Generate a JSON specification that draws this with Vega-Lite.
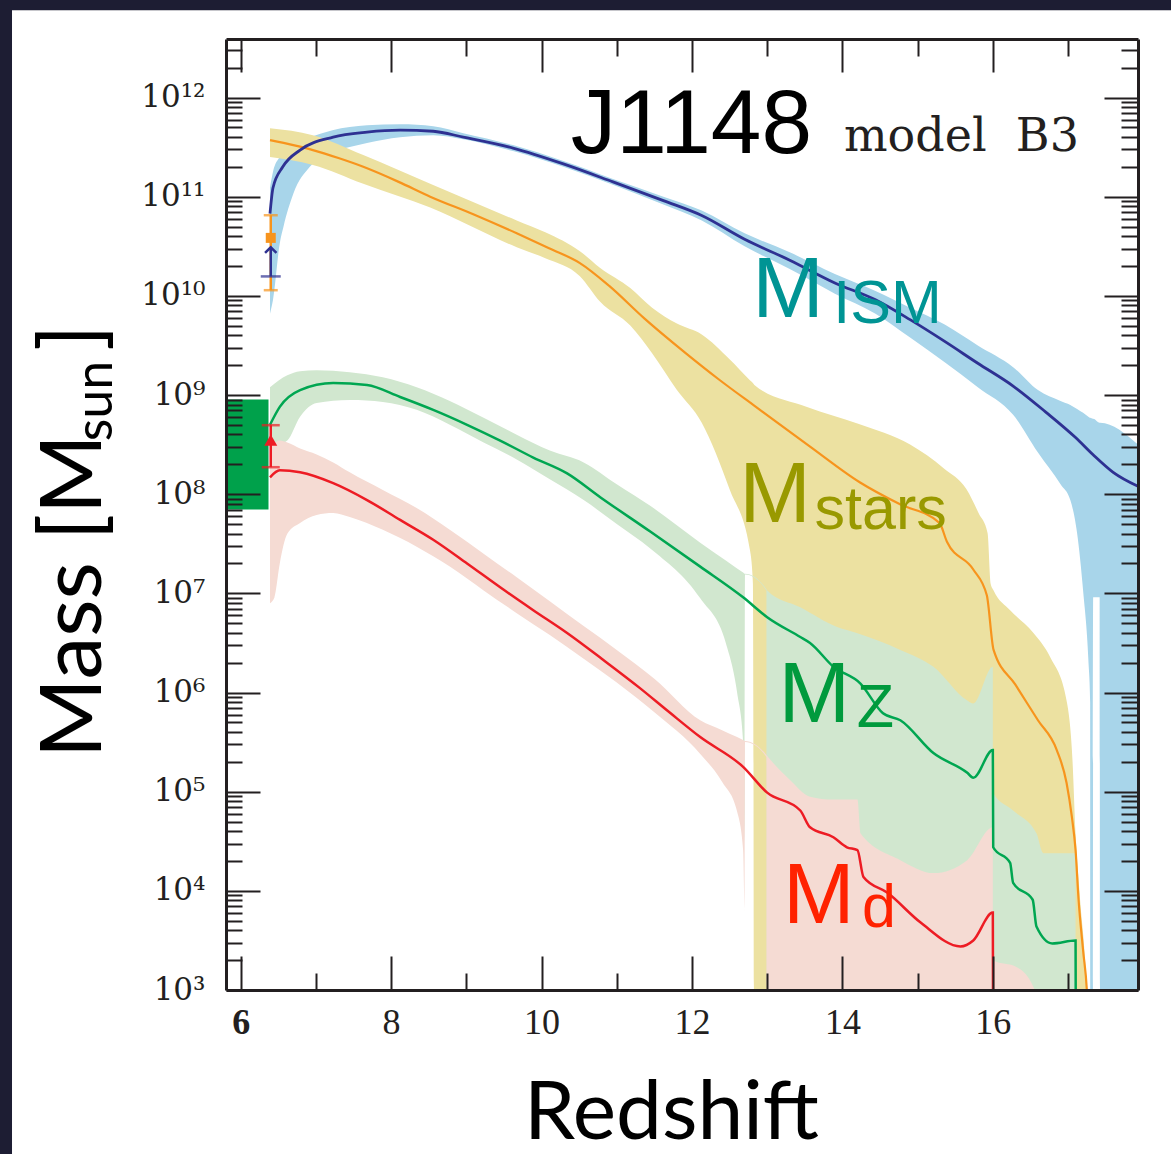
{
  "$schema": "https://vega.github.io/schema/vega-lite/v6.json",
  "width": 912,
  "height": 951,
  "autosize": {"type": "none"},
  "padding": {"left": 226, "top": 39, "right": 33, "bottom": 164},
  "background": "#1d1d33",
  "config": {"view": {"stroke": null}, "axis": {"grid": false}},
  "datasets": {
    "panel": [{"x1": 2.96, "x2": 19.5, "y1": 15, "y2": 7.6e12}],
    "bands": [
      {"s": "ISM", "z": 6.39, "lo": 6.61e9, "hi": 1.23e11},
      {"s": "ISM", "z": 6.43, "lo": 9.12e9, "hi": 1.78e11},
      {"s": "ISM", "z": 6.52, "lo": 3.39e10, "hi": 2.51e11},
      {"s": "ISM", "z": 6.57, "lo": 5.01e10, "hi": 2.82e11},
      {"s": "ISM", "z": 6.70, "lo": 1.07e11, "hi": 3.39e11},
      {"s": "ISM", "z": 6.92, "lo": 2.00e11, "hi": 3.98e11},
      {"s": "ISM", "z": 7.22, "lo": 2.75e11, "hi": 4.68e11},
      {"s": "ISM", "z": 7.68, "lo": 3.47e11, "hi": 5.25e11},
      {"s": "ISM", "z": 8.12, "lo": 3.98e11, "hi": 5.37e11},
      {"s": "ISM", "z": 8.56, "lo": 4.17e11, "hi": 5.13e11},
      {"s": "ISM", "z": 8.96, "lo": 3.80e11, "hi": 4.37e11},
      {"s": "ISM", "z": 9.62, "lo": 2.88e11, "hi": 3.31e11},
      {"s": "ISM", "z": 10.29, "lo": 2.00e11, "hi": 2.29e11},
      {"s": "ISM", "z": 10.95, "lo": 1.32e11, "hi": 1.51e11},
      {"s": "ISM", "z": 11.62, "lo": 8.32e10, "hi": 1.00e11},
      {"s": "ISM", "z": 12.13, "lo": 5.75e10, "hi": 7.24e10},
      {"s": "ISM", "z": 12.70, "lo": 3.16e10, "hi": 4.27e10},
      {"s": "ISM", "z": 13.30, "lo": 1.86e10, "hi": 2.75e10},
      {"s": "ISM", "z": 13.90, "lo": 1.05e10, "hi": 1.66e10},
      {"s": "ISM", "z": 14.44, "lo": 6.61e9, "hi": 1.12e10},
      {"s": "ISM", "z": 14.90, "lo": 3.80e9, "hi": 7.59e9},
      {"s": "ISM", "z": 15.36, "lo": 2.14e9, "hi": 5.13e9},
      {"s": "ISM", "z": 15.80, "lo": 1.20e9, "hi": 3.16e9},
      {"s": "ISM", "z": 16.27, "lo": 6.31e8, "hi": 1.91e9},
      {"s": "ISM", "z": 16.60, "lo": 2.63e8, "hi": 1.12e9},
      {"s": "ISM", "z": 16.90, "lo": 1.26e8, "hi": 8.71e8},
      {"s": "ISM", "z": 17.03, "lo": 8.71e7, "hi": 7.94e8},
      {"s": "ISM", "z": 17.12, "lo": 4.07e7, "hi": 7.24e8},
      {"s": "ISM", "z": 17.20, "lo": 1.07e7, "hi": 6.61e8},
      {"s": "ISM", "z": 17.27, "lo": 2.14e6, "hi": 6.03e8},
      {"s": "ISM", "z": 17.294, "lo": 7.94e5, "hi": 5.89e8},
      {"s": "ISM", "z": 17.295, "lo": 100, "hi": 5.89e8},
      {"s": "ISM", "z": 17.33, "lo": 100, "hi": 5.75e8},
      {"s": "ISM", "z": 17.334, "lo": 9.12e6, "hi": 5.75e8},
      {"s": "ISM", "z": 17.42, "lo": 9.12e6, "hi": 5.25e8},
      {"s": "ISM", "z": 17.427, "lo": 100, "hi": 5.25e8},
      {"s": "ISM", "z": 17.93, "lo": 100, "hi": 3.16e8},

      {"s": "stars", "z": 6.39, "lo": 2.51e11, "hi": 4.90e11},
      {"s": "stars", "z": 6.96, "lo": 2.09e11, "hi": 4.17e11},
      {"s": "stars", "z": 7.63, "lo": 1.35e11, "hi": 2.63e11},
      {"s": "stars", "z": 8.52, "lo": 7.76e10, "hi": 1.35e11},
      {"s": "stars", "z": 9.67, "lo": 3.09e10, "hi": 5.75e10},
      {"s": "stars", "z": 10.05, "lo": 2.40e10, "hi": 4.37e10},
      {"s": "stars", "z": 10.51, "lo": 1.58e10, "hi": 2.82e10},
      {"s": "stars", "z": 10.78, "lo": 8.71e9, "hi": 1.91e10},
      {"s": "stars", "z": 11.18, "lo": 5.01e9, "hi": 1.20e10},
      {"s": "stars", "z": 11.47, "lo": 2.63e9, "hi": 7.59e9},
      {"s": "stars", "z": 11.80, "lo": 1.12e9, "hi": 5.25e9},
      {"s": "stars", "z": 12.13, "lo": 5.25e8, "hi": 4.07e9},
      {"s": "stars", "z": 12.50, "lo": 1.12e8, "hi": 2.29e9},
      {"s": "stars", "z": 12.77, "lo": 2.75e7, "hi": 1.41e9},
      {"s": "stars", "z": 12.81, "lo": 1.26e7, "hi": 1.32e9},
      {"s": "stars", "z": 12.83, "lo": 100, "hi": 1.26e9},
      {"s": "stars", "z": 13.53, "lo": 100, "hi": 7.59e8},
      {"s": "stars", "z": 14.21, "lo": 100, "hi": 5.13e8},
      {"s": "stars", "z": 14.90, "lo": 100, "hi": 3.16e8},
      {"s": "stars", "z": 15.35, "lo": 100, "hi": 1.82e8},
      {"s": "stars", "z": 15.65, "lo": 100, "hi": 1.12e8},
      {"s": "stars", "z": 15.81, "lo": 100, "hi": 6.46e7},
      {"s": "stars", "z": 15.93, "lo": 100, "hi": 4.07e7},
      {"s": "stars", "z": 15.97, "lo": 100, "hi": 1.26e7},
      {"s": "stars", "z": 16.01, "lo": 100, "hi": 1.07e7},
      {"s": "stars", "z": 16.23, "lo": 100, "hi": 6.76e6},
      {"s": "stars", "z": 16.54, "lo": 100, "hi": 3.98e6},
      {"s": "stars", "z": 16.76, "lo": 100, "hi": 2.29e6},
      {"s": "stars", "z": 16.98, "lo": 100, "hi": 8.32e5},
      {"s": "stars", "z": 17.06, "lo": 100, "hi": 2.00e5},
      {"s": "stars", "z": 17.10, "lo": 100, "hi": 3.80e4},
      {"s": "stars", "z": 17.16, "lo": 100, "hi": 8.13e3},
      {"s": "stars", "z": 17.23, "lo": 100, "hi": 1.70e3},
      {"s": "stars", "z": 17.27, "lo": 100, "hi": 316},

      {"s": "Z", "z": 6.39, "lo": 2.95e8, "hi": 1.20e9},
      {"s": "Z", "z": 6.62, "lo": 3.47e8, "hi": 1.58e9},
      {"s": "Z", "z": 6.79, "lo": 6.03e8, "hi": 1.74e9},
      {"s": "Z", "z": 7.01, "lo": 8.32e8, "hi": 1.78e9},
      {"s": "Z", "z": 7.45, "lo": 8.91e8, "hi": 1.70e9},
      {"s": "Z", "z": 7.89, "lo": 8.51e8, "hi": 1.51e9},
      {"s": "Z", "z": 8.34, "lo": 7.08e8, "hi": 1.20e9},
      {"s": "Z", "z": 8.78, "lo": 5.01e8, "hi": 8.71e8},
      {"s": "Z", "z": 9.23, "lo": 3.31e8, "hi": 5.89e8},
      {"s": "Z", "z": 9.67, "lo": 2.24e8, "hi": 3.98e8},
      {"s": "Z", "z": 10.11, "lo": 1.41e8, "hi": 2.75e8},
      {"s": "Z", "z": 10.56, "lo": 8.71e7, "hi": 2.09e8},
      {"s": "Z", "z": 11.0, "lo": 5.01e7, "hi": 1.26e8},
      {"s": "Z", "z": 11.45, "lo": 2.82e7, "hi": 7.59e7},
      {"s": "Z", "z": 12.11, "lo": 8.91e6, "hi": 3.24e7},
      {"s": "Z", "z": 12.45, "lo": 3.16e6, "hi": 2.14e7},
      {"s": "Z", "z": 12.60, "lo": 1.00e6, "hi": 1.78e7},
      {"s": "Z", "z": 12.68, "lo": 3.16e5, "hi": 1.62e7},
      {"s": "Z", "z": 12.70, "lo": 3.16e4, "hi": 1.58e7},
      {"s": "Z", "z": 12.705, "lo": 1.55e7, "hi": 1.58e7},
      {"s": "Z", "z": 12.99, "lo": 1.07e7, "hi": 1.10e7},
      {"s": "Z", "z": 13.00, "lo": 100, "hi": 1.07e7},
      {"s": "Z", "z": 13.44, "lo": 100, "hi": 7.24e6},
      {"s": "Z", "z": 13.93, "lo": 100, "hi": 4.57e6},
      {"s": "Z", "z": 14.19, "lo": 100, "hi": 3.98e6},
      {"s": "Z", "z": 14.77, "lo": 100, "hi": 2.69e6},
      {"s": "Z", "z": 15.21, "lo": 100, "hi": 1.82e6},
      {"s": "Z", "z": 15.66, "lo": 100, "hi": 8.32e5},
      {"s": "Z", "z": 15.74, "lo": 100, "hi": 7.76e5},
      {"s": "Z", "z": 16.00, "lo": 100, "hi": 1.82e6},
      {"s": "Z", "z": 16.005, "lo": 100, "hi": 9.77e4},
      {"s": "Z", "z": 16.27, "lo": 100, "hi": 6.46e4},
      {"s": "Z", "z": 16.58, "lo": 100, "hi": 3.80e4},
      {"s": "Z", "z": 16.67, "lo": 100, "hi": 2.40e4},
      {"s": "Z", "z": 17.10, "lo": 100, "hi": 2.40e4},
      {"s": "Z", "z": 17.105, "lo": 100, "hi": 100},

      {"s": "dust", "z": 6.39, "lo": 7.94e6, "hi": 3.24e8},
      {"s": "dust", "z": 6.45, "lo": 9.12e6, "hi": 3.31e8},
      {"s": "dust", "z": 6.52, "lo": 2.00e7, "hi": 3.47e8},
      {"s": "dust", "z": 6.62, "lo": 3.98e7, "hi": 3.31e8},
      {"s": "dust", "z": 6.79, "lo": 5.13e7, "hi": 2.88e8},
      {"s": "dust", "z": 7.01, "lo": 6.17e7, "hi": 2.51e8},
      {"s": "dust", "z": 7.23, "lo": 6.46e7, "hi": 2.09e8},
      {"s": "dust", "z": 7.45, "lo": 5.89e7, "hi": 1.66e8},
      {"s": "dust", "z": 7.89, "lo": 4.37e7, "hi": 1.10e8},
      {"s": "dust", "z": 8.34, "lo": 2.95e7, "hi": 7.24e7},
      {"s": "dust", "z": 8.78, "lo": 1.86e7, "hi": 4.37e7},
      {"s": "dust", "z": 9.23, "lo": 1.07e7, "hi": 2.51e7},
      {"s": "dust", "z": 9.67, "lo": 6.31e6, "hi": 1.45e7},
      {"s": "dust", "z": 10.11, "lo": 3.80e6, "hi": 8.32e6},
      {"s": "dust", "z": 10.56, "lo": 2.19e6, "hi": 4.68e6},
      {"s": "dust", "z": 11.00, "lo": 1.26e6, "hi": 2.69e6},
      {"s": "dust", "z": 11.50, "lo": 6.31e5, "hi": 1.38e6},
      {"s": "dust", "z": 12.11, "lo": 2.40e5, "hi": 5.25e5},
      {"s": "dust", "z": 12.40, "lo": 1.26e5, "hi": 4.17e5},
      {"s": "dust", "z": 12.60, "lo": 6.31e4, "hi": 3.55e5},
      {"s": "dust", "z": 12.68, "lo": 2.57e4, "hi": 3.31e5},
      {"s": "dust", "z": 12.70, "lo": 6.31e3, "hi": 3.24e5},
      {"s": "dust", "z": 12.705, "lo": 3.16e5, "hi": 3.24e5},
      {"s": "dust", "z": 12.99, "lo": 2.24e5, "hi": 2.34e5},
      {"s": "dust", "z": 13.00, "lo": 100, "hi": 2.29e5},
      {"s": "dust", "z": 13.30, "lo": 100, "hi": 1.32e5},
      {"s": "dust", "z": 13.57, "lo": 100, "hi": 8.91e4},
      {"s": "dust", "z": 13.88, "lo": 100, "hi": 8.32e4},
      {"s": "dust", "z": 14.20, "lo": 100, "hi": 8.32e4},
      {"s": "dust", "z": 14.24, "lo": 100, "hi": 3.80e4},
      {"s": "dust", "z": 14.77, "lo": 100, "hi": 2.04e4},
      {"s": "dust", "z": 15.21, "lo": 100, "hi": 1.51e4},
      {"s": "dust", "z": 15.66, "lo": 100, "hi": 2.04e4},
      {"s": "dust", "z": 16.00, "lo": 100, "hi": 4.37e4},
      {"s": "dust", "z": 16.005, "lo": 100, "hi": 2.00e3},
      {"s": "dust", "z": 16.32, "lo": 100, "hi": 1.70e3},
      {"s": "dust", "z": 16.54, "lo": 100, "hi": 1.07e3},
      {"s": "dust", "z": 16.70, "lo": 100, "hi": 398},
      {"s": "dust", "z": 16.80, "lo": 100, "hi": 100}
    ],
    "lines": [
      {"s": "ISM", "z": 6.39, "m": 6.76e10},
      {"s": "ISM", "z": 6.43, "m": 1.23e11},
      {"s": "ISM", "z": 6.56, "m": 2.00e11},
      {"s": "ISM", "z": 6.79, "m": 2.95e11},
      {"s": "ISM", "z": 7.23, "m": 3.98e11},
      {"s": "ISM", "z": 7.68, "m": 4.47e11},
      {"s": "ISM", "z": 8.12, "m": 4.68e11},
      {"s": "ISM", "z": 8.56, "m": 4.57e11},
      {"s": "ISM", "z": 8.96, "m": 3.98e11},
      {"s": "ISM", "z": 9.62, "m": 3.09e11},
      {"s": "ISM", "z": 10.29, "m": 2.14e11},
      {"s": "ISM", "z": 10.95, "m": 1.41e11},
      {"s": "ISM", "z": 11.62, "m": 9.12e10},
      {"s": "ISM", "z": 12.13, "m": 6.46e10},
      {"s": "ISM", "z": 12.70, "m": 3.72e10},
      {"s": "ISM", "z": 13.30, "m": 2.29e10},
      {"s": "ISM", "z": 13.90, "m": 1.35e10},
      {"s": "ISM", "z": 14.44, "m": 9.12e9},
      {"s": "ISM", "z": 14.90, "m": 5.75e9},
      {"s": "ISM", "z": 15.36, "m": 3.47e9},
      {"s": "ISM", "z": 15.80, "m": 2.09e9},
      {"s": "ISM", "z": 16.27, "m": 1.23e9},
      {"s": "ISM", "z": 16.70, "m": 6.76e8},
      {"s": "ISM", "z": 17.10, "m": 3.72e8},
      {"s": "ISM", "z": 17.33, "m": 2.51e8},
      {"s": "ISM", "z": 17.60, "m": 1.66e8},
      {"s": "ISM", "z": 17.93, "m": 1.20e8},

      {"s": "stars", "z": 6.39, "m": 3.72e11},
      {"s": "stars", "z": 6.70, "m": 3.31e11},
      {"s": "stars", "z": 6.96, "m": 2.95e11},
      {"s": "stars", "z": 7.30, "m": 2.45e11},
      {"s": "stars", "z": 7.63, "m": 2.00e11},
      {"s": "stars", "z": 8.10, "m": 1.41e11},
      {"s": "stars", "z": 8.52, "m": 1.00e11},
      {"s": "stars", "z": 9.10, "m": 6.61e10},
      {"s": "stars", "z": 9.67, "m": 4.27e10},
      {"s": "stars", "z": 10.10, "m": 3.02e10},
      {"s": "stars", "z": 10.51, "m": 2.14e10},
      {"s": "stars", "z": 10.90, "m": 1.26e10},
      {"s": "stars", "z": 11.37, "m": 5.89e9},
      {"s": "stars", "z": 11.92, "m": 2.63e9},
      {"s": "stars", "z": 12.35, "m": 1.45e9},
      {"s": "stars", "z": 12.85, "m": 7.59e8},
      {"s": "stars", "z": 13.57, "m": 3.02e8},
      {"s": "stars", "z": 14.23, "m": 1.32e8},
      {"s": "stars", "z": 14.76, "m": 7.94e7},
      {"s": "stars", "z": 15.29, "m": 5.13e7},
      {"s": "stars", "z": 15.39, "m": 3.31e7},
      {"s": "stars", "z": 15.74, "m": 1.74e7},
      {"s": "stars", "z": 15.92, "m": 9.55e6},
      {"s": "stars", "z": 16.01, "m": 2.69e6},
      {"s": "stars", "z": 16.30, "m": 1.20e6},
      {"s": "stars", "z": 16.60, "m": 5.25e5},
      {"s": "stars", "z": 16.85, "m": 2.63e5},
      {"s": "stars", "z": 16.98, "m": 1.23e5},
      {"s": "stars", "z": 17.05, "m": 5.62e4},
      {"s": "stars", "z": 17.10, "m": 2.57e4},
      {"s": "stars", "z": 17.14, "m": 8.13e3},
      {"s": "stars", "z": 17.20, "m": 2.51e3},
      {"s": "stars", "z": 17.25, "m": 1.00e3},
      {"s": "stars", "z": 17.28, "m": 316},

      {"s": "Z", "z": 6.39, "m": 5.01e8},
      {"s": "Z", "z": 6.52, "m": 7.59e8},
      {"s": "Z", "z": 6.79, "m": 1.12e9},
      {"s": "Z", "z": 7.23, "m": 1.32e9},
      {"s": "Z", "z": 7.68, "m": 1.26e9},
      {"s": "Z", "z": 8.12, "m": 9.55e8},
      {"s": "Z", "z": 8.56, "m": 7.08e8},
      {"s": "Z", "z": 9.01, "m": 5.01e8},
      {"s": "Z", "z": 9.45, "m": 3.47e8},
      {"s": "Z", "z": 9.89, "m": 2.34e8},
      {"s": "Z", "z": 10.34, "m": 1.62e8},
      {"s": "Z", "z": 10.78, "m": 9.33e7},
      {"s": "Z", "z": 11.45, "m": 4.17e7},
      {"s": "Z", "z": 12.11, "m": 1.86e7},
      {"s": "Z", "z": 12.68, "m": 9.12e6},
      {"s": "Z", "z": 13.00, "m": 5.75e6},
      {"s": "Z", "z": 13.44, "m": 3.63e6},
      {"s": "Z", "z": 13.57, "m": 3.16e6},
      {"s": "Z", "z": 13.88, "m": 1.82e6},
      {"s": "Z", "z": 14.24, "m": 1.23e6},
      {"s": "Z", "z": 14.54, "m": 6.17e5},
      {"s": "Z", "z": 14.77, "m": 5.25e5},
      {"s": "Z", "z": 15.21, "m": 2.45e5},
      {"s": "Z", "z": 15.66, "m": 1.55e5},
      {"s": "Z", "z": 15.74, "m": 1.38e5},
      {"s": "Z", "z": 16.00, "m": 2.63e5},
      {"s": "Z", "z": 16.005, "m": 2.75e4},
      {"s": "Z", "z": 16.23, "m": 1.91e4},
      {"s": "Z", "z": 16.27, "m": 1.20e4},
      {"s": "Z", "z": 16.53, "m": 8.13e3},
      {"s": "Z", "z": 16.58, "m": 4.37e3},
      {"s": "Z", "z": 16.79, "m": 2.95e3},
      {"s": "Z", "z": 17.10, "m": 3.16e3},
      {"s": "Z", "z": 17.105, "m": 100},

      {"s": "dust", "z": 6.39, "m": 1.48e8},
      {"s": "dust", "z": 6.52, "m": 1.74e8},
      {"s": "dust", "z": 6.79, "m": 1.66e8},
      {"s": "dust", "z": 7.23, "m": 1.29e8},
      {"s": "dust", "z": 7.68, "m": 8.71e7},
      {"s": "dust", "z": 8.12, "m": 5.50e7},
      {"s": "dust", "z": 8.56, "m": 3.47e7},
      {"s": "dust", "z": 9.01, "m": 2.00e7},
      {"s": "dust", "z": 9.45, "m": 1.15e7},
      {"s": "dust", "z": 9.89, "m": 6.76e6},
      {"s": "dust", "z": 10.34, "m": 3.98e6},
      {"s": "dust", "z": 10.80, "m": 2.19e6},
      {"s": "dust", "z": 11.30, "m": 1.12e6},
      {"s": "dust", "z": 11.70, "m": 6.31e5},
      {"s": "dust", "z": 12.11, "m": 3.55e5},
      {"s": "dust", "z": 12.68, "m": 1.78e5},
      {"s": "dust", "z": 13.00, "m": 9.77e4},
      {"s": "dust", "z": 13.44, "m": 6.46e4},
      {"s": "dust", "z": 13.57, "m": 4.37e4},
      {"s": "dust", "z": 13.88, "m": 3.47e4},
      {"s": "dust", "z": 14.06, "m": 2.75e4},
      {"s": "dust", "z": 14.20, "m": 2.57e4},
      {"s": "dust", "z": 14.28, "m": 1.38e4},
      {"s": "dust", "z": 14.60, "m": 9.55e3},
      {"s": "dust", "z": 15.04, "m": 4.79e3},
      {"s": "dust", "z": 15.57, "m": 2.75e3},
      {"s": "dust", "z": 15.74, "m": 3.16e3},
      {"s": "dust", "z": 16.00, "m": 6.03e3},
      {"s": "dust", "z": 16.005, "m": 100}
    ],
    "obs": [
      {"s": "stars", "z": 6.4, "v": 3.84e10, "lo": 1.14e10, "hi": 6.5e10},
      {"s": "ISM", "z": 6.4, "v": 3.09e10, "lo": 1.57e10, "hi": 3.09e10},
      {"s": "dust", "z": 6.4, "v": 3.5e8, "lo": 1.87e8, "hi": 4.96e8}
    ],
    "zobs": [{"s": "Z", "z1": 5.8, "z2": 6.37, "lo": 7.0e7, "hi": 9.0e8}],
    "labels": [
      {"id": "J", "g": "title", "t": "J1148", "z": 10.39, "m": 2.74e11},
      {"id": "B3", "g": "title", "t": "model\u00a0\u00a0B3", "z": 14.02, "m": 2.9e11},
      {"id": "M_ISM", "g": "ISM", "part": "main", "t": "M", "z": 12.80, "m": 6.1e9},
      {"id": "s_ISM", "g": "ISM", "part": "sub", "t": "ISM", "z": 13.88, "m": 5.35e9},
      {"id": "M_stars", "g": "stars", "part": "main", "t": "M", "z": 12.63, "m": 5.2e7},
      {"id": "s_stars", "g": "stars", "part": "sub", "t": "stars", "z": 13.63, "m": 4.5e7},
      {"id": "M_Z", "g": "Z", "part": "main", "t": "M", "z": 13.15, "m": 5.0e5},
      {"id": "s_Z", "g": "Z", "part": "sub", "t": "Z", "z": 14.19, "m": 4.48e5},
      {"id": "M_d", "g": "dust", "part": "main", "t": "M", "z": 13.21, "m": 4.73e3},
      {"id": "s_d", "g": "dust", "part": "sub", "t": "d", "z": 14.26, "m": 4.32e3},
      {"id": "Mass", "g": "ytitle", "part": "main", "t": "Mass [M", "z": 4.142, "m": 2.18e5},
      {"id": "sun", "g": "ytitle", "part": "sub", "t": "sun", "z": 4.288, "m": 3.42e8},
      {"id": "br", "g": "ytitle", "part": "main", "t": "]", "z": 4.142, "m": 2.77e9}
    ]
  },
  "resolve": {"axis": {"x": "independent", "y": "independent"}},
  "layer": [
    {
      "data": {"name": "panel"},
      "mark": {"type": "rect", "color": "#ffffff", "clip": false},
      "encoding": {
        "x": {"field": "x1", "type": "quantitative", "scale": {"domain": [5.805, 17.93], "nice": false, "zero": false}, "axis": null},
        "x2": {"field": "x2"},
        "y": {"field": "y1", "type": "quantitative", "scale": {"type": "log", "domain": [1000, 3.89e12], "nice": false}, "axis": null},
        "y2": {"field": "y2"}
      }
    },
    {
      "data": {"name": "bands"},
      "transform": [{"filter": "datum.s == 'ISM'"}],
      "mark": {"type": "area", "color": "#a8d5ea", "clip": true, "interpolate": "monotone"},
      "encoding": {
        "x": {"field": "z", "type": "quantitative", "scale": {"domain": [5.805, 17.93], "nice": false, "zero": false}, "axis": null},
        "y": {"field": "lo", "type": "quantitative", "scale": {"type": "log", "domain": [1000, 3.89e12], "nice": false}, "axis": null},
        "y2": {"field": "hi"}
      }
    },
    {
      "data": {"name": "bands"},
      "transform": [{"filter": "datum.s == 'stars'"}],
      "mark": {"type": "area", "color": "#ece1a1", "clip": true, "interpolate": "monotone"},
      "encoding": {
        "x": {"field": "z", "type": "quantitative", "scale": {"domain": [5.805, 17.93], "nice": false, "zero": false}, "axis": null},
        "y": {"field": "lo", "type": "quantitative", "scale": {"type": "log", "domain": [1000, 3.89e12], "nice": false}, "axis": null},
        "y2": {"field": "hi"}
      }
    },
    {
      "data": {"name": "bands"},
      "transform": [{"filter": "datum.s == 'Z'"}],
      "mark": {"type": "area", "color": "#d1e7cf", "clip": true, "interpolate": "monotone"},
      "encoding": {
        "x": {"field": "z", "type": "quantitative", "scale": {"domain": [5.805, 17.93], "nice": false, "zero": false}, "axis": null},
        "y": {"field": "lo", "type": "quantitative", "scale": {"type": "log", "domain": [1000, 3.89e12], "nice": false}, "axis": null},
        "y2": {"field": "hi"}
      }
    },
    {
      "data": {"name": "bands"},
      "transform": [{"filter": "datum.s == 'dust'"}],
      "mark": {"type": "area", "color": "#f5dbd3", "clip": true, "interpolate": "monotone"},
      "encoding": {
        "x": {"field": "z", "type": "quantitative", "scale": {"domain": [5.805, 17.93], "nice": false, "zero": false}, "axis": null},
        "y": {"field": "lo", "type": "quantitative", "scale": {"type": "log", "domain": [1000, 3.89e12], "nice": false}, "axis": null},
        "y2": {"field": "hi"}
      }
    },
    {
      "data": {"name": "lines"},
      "transform": [{"filter": "datum.s == 'stars'"}],
      "mark": {"type": "line", "color": "#f7941d", "strokeWidth": 2.2, "clip": true, "interpolate": "monotone"},
      "encoding": {
        "x": {"field": "z", "type": "quantitative", "scale": {"domain": [5.805, 17.93], "nice": false, "zero": false}, "axis": null},
        "y": {"field": "m", "type": "quantitative", "scale": {"type": "log", "domain": [1000, 3.89e12], "nice": false}, "axis": null}
      }
    },
    {
      "data": {"name": "lines"},
      "transform": [{"filter": "datum.s == 'ISM'"}],
      "mark": {"type": "line", "color": "#2e3192", "strokeWidth": 2.8, "clip": true, "interpolate": "monotone"},
      "encoding": {
        "x": {"field": "z", "type": "quantitative", "scale": {"domain": [5.805, 17.93], "nice": false, "zero": false}, "axis": null},
        "y": {"field": "m", "type": "quantitative", "scale": {"type": "log", "domain": [1000, 3.89e12], "nice": false}, "axis": null}
      }
    },
    {
      "data": {"name": "lines"},
      "transform": [{"filter": "datum.s == 'Z'"}],
      "mark": {"type": "line", "color": "#00a651", "strokeWidth": 2.5, "clip": true, "interpolate": "monotone"},
      "encoding": {
        "x": {"field": "z", "type": "quantitative", "scale": {"domain": [5.805, 17.93], "nice": false, "zero": false}, "axis": null},
        "y": {"field": "m", "type": "quantitative", "scale": {"type": "log", "domain": [1000, 3.89e12], "nice": false}, "axis": null}
      }
    },
    {
      "data": {"name": "lines"},
      "transform": [{"filter": "datum.s == 'dust'"}],
      "mark": {"type": "line", "color": "#ed1c24", "strokeWidth": 2.5, "clip": true, "interpolate": "monotone"},
      "encoding": {
        "x": {"field": "z", "type": "quantitative", "scale": {"domain": [5.805, 17.93], "nice": false, "zero": false}, "axis": null},
        "y": {"field": "m", "type": "quantitative", "scale": {"type": "log", "domain": [1000, 3.89e12], "nice": false}, "axis": null}
      }
    },
    {
      "data": {"name": "zobs"},
      "mark": {"type": "rect", "color": "#00a14b"},
      "encoding": {
        "x": {"field": "z1", "type": "quantitative", "scale": {"domain": [5.805, 17.93], "nice": false, "zero": false}, "axis": null},
        "x2": {"field": "z2"},
        "y": {"field": "lo", "type": "quantitative", "scale": {"type": "log", "domain": [1000, 3.89e12], "nice": false}, "axis": null},
        "y2": {"field": "hi"}
      }
    },
    {
      "data": {"name": "obs"},
      "transform": [{"filter": "datum.s == 'stars'"}],
      "mark": {"type": "rule", "color": "#f7941d", "strokeWidth": 2.5},
      "encoding": {
        "x": {"field": "z", "type": "quantitative", "scale": {"domain": [5.805, 17.93], "nice": false, "zero": false}, "axis": null},
        "y": {"field": "lo", "type": "quantitative", "scale": {"type": "log", "domain": [1000, 3.89e12], "nice": false}, "axis": null},
        "y2": {"field": "hi"}
      }
    },
    {
      "data": {"name": "obs"},
      "transform": [{"filter": "datum.s == 'stars'"}, {"fold": ["lo", "hi"], "as": ["end", "cap"]}],
      "mark": {"type": "tick", "orient": "horizontal", "color": "#f7941d", "size": 14, "thickness": 2.5},
      "encoding": {
        "x": {"field": "z", "type": "quantitative", "scale": {"domain": [5.805, 17.93], "nice": false, "zero": false}, "axis": null},
        "y": {"field": "cap", "type": "quantitative", "scale": {"type": "log", "domain": [1000, 3.89e12], "nice": false}, "axis": null}
      }
    },
    {
      "data": {"name": "obs"},
      "transform": [{"filter": "datum.s == 'stars'"}],
      "mark": {"type": "point", "shape": "square", "filled": true, "opacity": 1, "color": "#f7941d", "size": 100},
      "encoding": {
        "x": {"field": "z", "type": "quantitative", "scale": {"domain": [5.805, 17.93], "nice": false, "zero": false}, "axis": null},
        "y": {"field": "v", "type": "quantitative", "scale": {"type": "log", "domain": [1000, 3.89e12], "nice": false}, "axis": null}
      }
    },
    {
      "data": {"name": "obs"},
      "transform": [{"filter": "datum.s == 'ISM'"}],
      "mark": {"type": "rule", "color": "#2e3192", "strokeWidth": 2.5},
      "encoding": {
        "x": {"field": "z", "type": "quantitative", "scale": {"domain": [5.805, 17.93], "nice": false, "zero": false}, "axis": null},
        "y": {"field": "lo", "type": "quantitative", "scale": {"type": "log", "domain": [1000, 3.89e12], "nice": false}, "axis": null},
        "y2": {"field": "hi"}
      }
    },
    {
      "data": {"name": "obs"},
      "transform": [{"filter": "datum.s == 'ISM'"}],
      "mark": {"type": "tick", "orient": "horizontal", "color": "#2e3192", "size": 20, "thickness": 2.5},
      "encoding": {
        "x": {"field": "z", "type": "quantitative", "scale": {"domain": [5.805, 17.93], "nice": false, "zero": false}, "axis": null},
        "y": {"field": "lo", "type": "quantitative", "scale": {"type": "log", "domain": [1000, 3.89e12], "nice": false}, "axis": null}
      }
    },
    {
      "data": {"name": "obs"},
      "transform": [{"filter": "datum.s == 'ISM'"}],
      "mark": {"type": "point", "shape": "M-1,1L0,0L1,1", "filled": false, "opacity": 1, "color": "#2e3192", "strokeWidth": 2.5, "size": 130},
      "encoding": {
        "x": {"field": "z", "type": "quantitative", "scale": {"domain": [5.805, 17.93], "nice": false, "zero": false}, "axis": null},
        "y": {"field": "hi", "type": "quantitative", "scale": {"type": "log", "domain": [1000, 3.89e12], "nice": false}, "axis": null}
      }
    },
    {
      "data": {"name": "obs"},
      "transform": [{"filter": "datum.s == 'dust'"}],
      "mark": {"type": "rule", "color": "#ed1c24", "strokeWidth": 2.5},
      "encoding": {
        "x": {"field": "z", "type": "quantitative", "scale": {"domain": [5.805, 17.93], "nice": false, "zero": false}, "axis": null},
        "y": {"field": "lo", "type": "quantitative", "scale": {"type": "log", "domain": [1000, 3.89e12], "nice": false}, "axis": null},
        "y2": {"field": "hi"}
      }
    },
    {
      "data": {"name": "obs"},
      "transform": [{"filter": "datum.s == 'dust'"}, {"fold": ["lo", "hi"], "as": ["end", "cap"]}],
      "mark": {"type": "tick", "orient": "horizontal", "color": "#ed1c24", "size": 18, "thickness": 2.5},
      "encoding": {
        "x": {"field": "z", "type": "quantitative", "scale": {"domain": [5.805, 17.93], "nice": false, "zero": false}, "axis": null},
        "y": {"field": "cap", "type": "quantitative", "scale": {"type": "log", "domain": [1000, 3.89e12], "nice": false}, "axis": null}
      }
    },
    {
      "data": {"name": "obs"},
      "transform": [{"filter": "datum.s == 'dust'"}],
      "mark": {"type": "point", "shape": "triangle-up", "filled": true, "opacity": 1, "color": "#ed1c24", "size": 170},
      "encoding": {
        "x": {"field": "z", "type": "quantitative", "scale": {"domain": [5.805, 17.93], "nice": false, "zero": false}, "axis": null},
        "y": {"field": "v", "type": "quantitative", "scale": {"type": "log", "domain": [1000, 3.89e12], "nice": false}, "axis": null}
      }
    },
    {
      "data": {"name": "labels"},
      "transform": [{"filter": "datum.part == 'main' && datum.g != 'ytitle'"}],
      "mark": {"type": "text", "font": "Liberation Sans", "fontSize": 86, "align": "left", "baseline": "alphabetic", "clip": false},
      "encoding": {
        "x": {"field": "z", "type": "quantitative", "scale": {"domain": [5.805, 17.93], "nice": false, "zero": false}, "axis": null},
        "y": {"field": "m", "type": "quantitative", "scale": {"type": "log", "domain": [1000, 3.89e12], "nice": false}, "axis": null},
        "text": {"field": "t", "type": "nominal"},
        "color": {"field": "g", "type": "nominal", "scale": {"domain": ["ISM", "stars", "Z", "dust"], "range": ["#009494", "#999900", "#009a3d", "#ff2200"]}, "legend": null}
      }
    },
    {
      "data": {"name": "labels"},
      "transform": [{"filter": "datum.part == 'sub' && datum.g != 'ytitle'"}],
      "mark": {"type": "text", "font": "Liberation Sans", "fontSize": 61, "align": "left", "baseline": "alphabetic", "clip": false},
      "encoding": {
        "x": {"field": "z", "type": "quantitative", "scale": {"domain": [5.805, 17.93], "nice": false, "zero": false}, "axis": null},
        "y": {"field": "m", "type": "quantitative", "scale": {"type": "log", "domain": [1000, 3.89e12], "nice": false}, "axis": null},
        "text": {"field": "t", "type": "nominal"},
        "color": {"field": "g", "type": "nominal", "scale": {"domain": ["ISM", "stars", "Z", "dust"], "range": ["#009494", "#999900", "#009a3d", "#ff2200"]}, "legend": null}
      }
    },
    {
      "data": {"name": "labels"},
      "transform": [{"filter": "datum.id == 'J'"}],
      "mark": {"type": "text", "font": "Liberation Sans", "fontSize": 91, "align": "left", "baseline": "alphabetic", "color": "#000000"},
      "encoding": {
        "x": {"field": "z", "type": "quantitative", "scale": {"domain": [5.805, 17.93], "nice": false, "zero": false}, "axis": null},
        "y": {"field": "m", "type": "quantitative", "scale": {"type": "log", "domain": [1000, 3.89e12], "nice": false}, "axis": null},
        "text": {"field": "t", "type": "nominal"}
      }
    },
    {
      "data": {"name": "labels"},
      "transform": [{"filter": "datum.id == 'B3'"}],
      "mark": {"type": "text", "font": "DejaVu Serif", "fontSize": 46, "align": "left", "baseline": "alphabetic", "color": "#231f20"},
      "encoding": {
        "x": {"field": "z", "type": "quantitative", "scale": {"domain": [5.805, 17.93], "nice": false, "zero": false}, "axis": null},
        "y": {"field": "m", "type": "quantitative", "scale": {"type": "log", "domain": [1000, 3.89e12], "nice": false}, "axis": null},
        "text": {"field": "t", "type": "nominal"}
      }
    },
    {
      "data": {"name": "labels"},
      "transform": [{"filter": "datum.g == 'ytitle' && datum.part == 'main'"}],
      "mark": {"type": "text", "font": "Lato", "fontSize": 86, "angle": 270, "align": "left", "baseline": "alphabetic", "color": "#000000", "clip": false},
      "encoding": {
        "x": {"field": "z", "type": "quantitative", "scale": {"domain": [5.805, 17.93], "nice": false, "zero": false}, "axis": null},
        "y": {"field": "m", "type": "quantitative", "scale": {"type": "log", "domain": [1000, 3.89e12], "nice": false}, "axis": null},
        "text": {"field": "t", "type": "nominal"}
      }
    },
    {
      "data": {"name": "labels"},
      "transform": [{"filter": "datum.g == 'ytitle' && datum.part == 'sub'"}],
      "mark": {"type": "text", "font": "Lato", "fontSize": 52, "angle": 270, "align": "left", "baseline": "alphabetic", "color": "#000000", "clip": false},
      "encoding": {
        "x": {"field": "z", "type": "quantitative", "scale": {"domain": [5.805, 17.93], "nice": false, "zero": false}, "axis": null},
        "y": {"field": "m", "type": "quantitative", "scale": {"type": "log", "domain": [1000, 3.89e12], "nice": false}, "axis": null},
        "text": {"field": "t", "type": "nominal"}
      }
    },
    {
      "data": {"name": "obs"},
      "mark": {"type": "point", "opacity": 0},
      "encoding": {
        "x": {"field": "z", "type": "quantitative", "scale": {"domain": [5.805, 17.93], "nice": false, "zero": false},
          "axis": {"orient": "bottom", "values": [6, 8, 10, 12, 14, 16], "ticks": false, "domain": true, "domainWidth": 3, "domainColor": "#231f20", "labels": true, "labelFont": "Liberation Serif", "labelFontSize": 36, "labelColor": "#231f20", "labelPadding": 15, "labelOverlap": false, "labelFlush": false, "labelBound": false,
            "labelFontWeight": {"condition": {"test": "datum.value == 6", "value": "bold"}, "value": "normal"},
            "title": "Redshift", "titleFont": "Lato", "titleFontSize": 82, "titleFontWeight": "normal", "titleColor": "#000000", "titleX": 445, "titleY": 148, "titleBaseline": "alphabetic", "titleAlign": "center", "grid": false, "zindex": 2}},
        "y": {"field": "v", "type": "quantitative", "scale": {"type": "log", "domain": [1000, 3.89e12], "nice": false},
          "axis": {"orient": "left", "values": [1000, 10000, 100000, 1000000, 10000000, 100000000, 1000000000, 10000000000, 100000000000, 1000000000000], "ticks": false, "domain": true, "domainWidth": 3, "domainColor": "#231f20", "labels": true, "labelFont": "DejaVu Serif", "labelFontSize": 31, "labelColor": "#231f20", "labelPadding": 21, "labelBaseline": "middle", "labelOverlap": false, "labelFlush": false, "labelBound": false,
            "labelExpr": "'10' + ['³','⁴','⁵','⁶','⁷','⁸','⁹','¹⁰','¹¹','¹²'][round(log(datum.value)/LN10) - 3]",
            "title": null, "grid": false, "zindex": 2}}
      }
    },
    {
      "data": {"name": "obs"},
      "mark": {"type": "point", "opacity": 0},
      "encoding": {
        "x": {"field": "z", "type": "quantitative", "scale": {"domain": [5.805, 17.93], "nice": false, "zero": false},
          "axis": {"orient": "bottom", "values": [6, 8, 10, 12, 14, 16], "ticks": true, "tickSize": -34, "tickWidth": 2, "tickColor": "#231f20", "domain": false, "labels": false, "title": null, "grid": false, "zindex": 2}},
        "y": {"field": "v", "type": "quantitative", "scale": {"type": "log", "domain": [1000, 3.89e12], "nice": false},
          "axis": {"orient": "left", "values": [1000, 10000, 100000, 1000000, 10000000, 100000000, 1000000000, 10000000000, 100000000000, 1000000000000], "ticks": true, "tickSize": -34, "tickWidth": 2, "tickColor": "#231f20", "domain": false, "labels": false, "title": null, "grid": false, "zindex": 2}}
      }
    },
    {
      "data": {"name": "obs"},
      "mark": {"type": "point", "opacity": 0},
      "encoding": {
        "x": {"field": "z", "type": "quantitative", "scale": {"domain": [5.805, 17.93], "nice": false, "zero": false},
          "axis": {"orient": "bottom", "values": [7, 9, 11, 13, 15, 17], "ticks": true, "tickSize": -17, "tickWidth": 2, "tickColor": "#231f20", "domain": false, "labels": false, "title": null, "grid": false, "zindex": 2}},
        "y": {"field": "v", "type": "quantitative", "scale": {"type": "log", "domain": [1000, 3.89e12], "nice": false},
          "axis": {"orient": "left", "values": [2000, 3000, 4000, 5000, 6000, 7000, 8000, 9000, 20000, 30000, 40000, 50000, 60000, 70000, 80000, 90000, 200000, 300000, 400000, 500000, 600000, 700000, 800000, 900000, 2e6, 3e6, 4e6, 5e6, 6e6, 7e6, 8e6, 9e6, 2e7, 3e7, 4e7, 5e7, 6e7, 7e7, 8e7, 9e7, 2e8, 3e8, 4e8, 5e8, 6e8, 7e8, 8e8, 9e8, 2e9, 3e9, 4e9, 5e9, 6e9, 7e9, 8e9, 9e9, 2e10, 3e10, 4e10, 5e10, 6e10, 7e10, 8e10, 9e10, 2e11, 3e11, 4e11, 5e11, 6e11, 7e11, 8e11, 9e11, 2e12, 3e12], "ticks": true, "tickSize": -16, "tickWidth": 2, "tickColor": "#231f20", "domain": false, "labels": false, "title": null, "grid": false, "zindex": 2}}
      }
    },
    {
      "data": {"name": "obs"},
      "mark": {"type": "point", "opacity": 0},
      "encoding": {
        "x": {"field": "z", "type": "quantitative", "scale": {"domain": [5.805, 17.93], "nice": false, "zero": false},
          "axis": {"orient": "top", "values": [6, 8, 10, 12, 14, 16], "ticks": true, "tickSize": -33, "tickWidth": 2, "tickColor": "#231f20", "domain": true, "domainWidth": 3, "domainColor": "#231f20", "labels": false, "title": null, "grid": false, "zindex": 2}},
        "y": {"field": "v", "type": "quantitative", "scale": {"type": "log", "domain": [1000, 3.89e12], "nice": false},
          "axis": {"orient": "right", "values": [1000, 10000, 100000, 1000000, 10000000, 100000000, 1000000000, 10000000000, 100000000000, 1000000000000], "ticks": true, "tickSize": -34, "tickWidth": 2, "tickColor": "#231f20", "domain": true, "domainWidth": 3, "domainColor": "#231f20", "labels": false, "title": null, "grid": false, "zindex": 2}}
      }
    },
    {
      "data": {"name": "obs"},
      "mark": {"type": "point", "opacity": 0},
      "encoding": {
        "x": {"field": "z", "type": "quantitative", "scale": {"domain": [5.805, 17.93], "nice": false, "zero": false},
          "axis": {"orient": "top", "values": [7, 9, 11, 13, 15, 17], "ticks": true, "tickSize": -17, "tickWidth": 2, "tickColor": "#231f20", "domain": false, "labels": false, "title": null, "grid": false, "zindex": 2}},
        "y": {"field": "v", "type": "quantitative", "scale": {"type": "log", "domain": [1000, 3.89e12], "nice": false},
          "axis": {"orient": "right", "values": [2000, 3000, 4000, 5000, 6000, 7000, 8000, 9000, 20000, 30000, 40000, 50000, 60000, 70000, 80000, 90000, 200000, 300000, 400000, 500000, 600000, 700000, 800000, 900000, 2e6, 3e6, 4e6, 5e6, 6e6, 7e6, 8e6, 9e6, 2e7, 3e7, 4e7, 5e7, 6e7, 7e7, 8e7, 9e7, 2e8, 3e8, 4e8, 5e8, 6e8, 7e8, 8e8, 9e8, 2e9, 3e9, 4e9, 5e9, 6e9, 7e9, 8e9, 9e9, 2e10, 3e10, 4e10, 5e10, 6e10, 7e10, 8e10, 9e10, 2e11, 3e11, 4e11, 5e11, 6e11, 7e11, 8e11, 9e11, 2e12, 3e12], "ticks": true, "tickSize": -17, "tickWidth": 2, "tickColor": "#231f20", "domain": false, "labels": false, "title": null, "grid": false, "zindex": 2}}
      }
    }
  ]
}
